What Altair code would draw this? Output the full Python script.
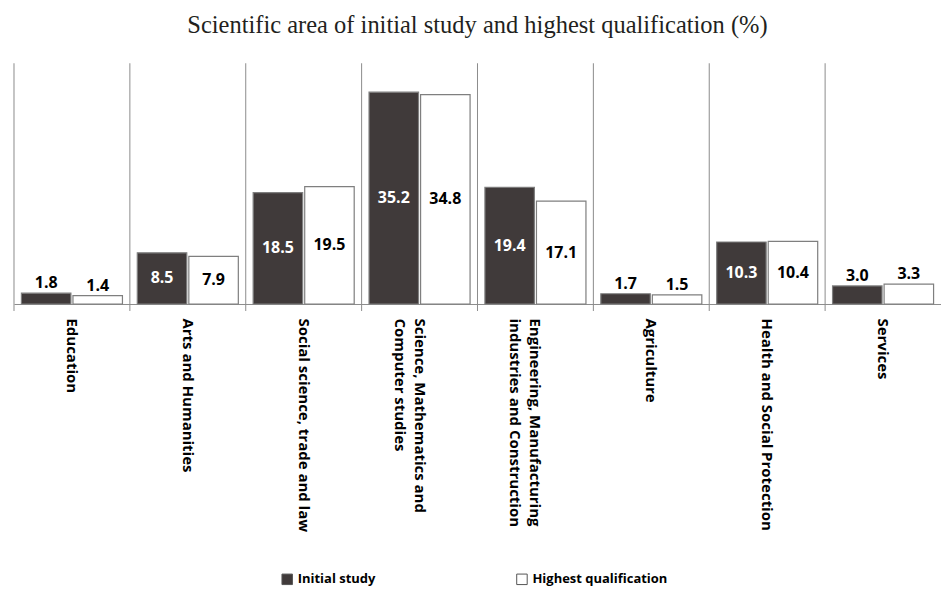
import altair as alt
import pandas as pd

categories = [
    "Education",
    "Arts and Humanities",
    "Social science, trade and law",
    "Science, Mathematics and\nComputer studies",
    "Engineering, Manufacturing\nindustries and Construction",
    "Agriculture",
    "Health and Social Protection",
    "Services",
]
series = ["Initial study", "Highest qualification"]
initial_study = [1.8, 8.5, 18.5, 35.2, 19.4, 1.7, 10.3, 3.0]
highest_qualification = [1.4, 7.9, 19.5, 34.8, 17.1, 1.5, 10.4, 3.3]

rows = []
for c, a, b in zip(categories, initial_study, highest_qualification):
    rows.append({"category": c, "series": series[0], "value": a, "label": f"{a:.1f}"})
    rows.append({"category": c, "series": series[1], "value": b, "label": f"{b:.1f}"})
df = pd.DataFrame(rows)

DARK = "#403a3a"
GRID = "#8c8c8c"
FONT = "Open Sans"
W, H = 928, 241

xenc = alt.X(
    "category:N",
    sort=categories,
    scale=alt.Scale(paddingInner=0, paddingOuter=0),
    axis=alt.Axis(
        title=None,
        labelAngle=90,
        labelAlign="left",
        labelBaseline="middle",
        labelFont=FONT,
        labelFontWeight="bold",
        labelFontSize=15,
        labelColor="#000000",
        labelPadding=14,
        labelLimit=400,
        labelLineHeight=20,
        labelExpr="split(datum.label, '\\n')",
        ticks=False,
        domainColor=GRID,
        domainWidth=1,
        grid=False,
    ),
)
xoff = alt.XOffset(
    "series:N", sort=series, scale=alt.Scale(paddingInner=0.04, paddingOuter=0.144)
)
yscale = alt.Scale(domain=[0, 40])

base = alt.Chart(df).encode(x=xenc, xOffset=xoff)

bars = base.mark_bar(stroke="#7f7f7f", strokeWidth=1.2).encode(
    y=alt.Y("value:Q", scale=yscale, axis=None),
    color=alt.Color(
        "series:N",
        sort=series,
        scale=alt.Scale(domain=series, range=[DARK, "#ffffff"]),
        legend=alt.Legend(
            title=None,
            orient="none",
            legendX=267,
            legendY=510,
            direction="horizontal",
            symbolType="square",
            symbolSize=110,
            symbolStrokeColor="#555555",
            symbolStrokeWidth=1,
            labelFont=FONT,
            labelFontWeight="bold",
            labelFontSize=13,
            labelColor="#000000",
            columnPadding=139,
            labelOffset=4,
        ),
    ),
)

big = (
    base.transform_filter("datum.value >= 5")
    .transform_calculate(mid="datum.value / 2")
    .mark_text(font=FONT, fontWeight="bold", fontSize=16, baseline="middle")
    .encode(
        y=alt.Y("mid:Q", scale=yscale, axis=None),
        text="label:N",
        color=alt.when(alt.datum.series == "Initial study")
        .then(alt.value("#ffffff"))
        .otherwise(alt.value("#000000")),
    )
)

small = (
    base.transform_filter("datum.value < 5")
    .mark_text(font=FONT, fontWeight="bold", fontSize=16, baseline="bottom", dy=-2, color="#000000")
    .encode(y=alt.Y("value:Q", scale=yscale, axis=None), text="label:N")
)

seps = (
    alt.Chart(pd.DataFrame({"category": categories}))
    .mark_rule(color=GRID, strokeWidth=1)
    .encode(
        x=alt.X("category:N", sort=categories, bandPosition=0),
        y=alt.value(0),
        y2=alt.value(H + 7),
    )
)

chart = (
    alt.layer(seps, bars, big, small)
    .properties(
        width=W,
        height=H,
        padding={"top": 5, "left": 5, "right": 0, "bottom": 5},
        title=alt.Title(
            "Scientific area of initial study and highest qualification (%)",
            font="Liberation Serif",
            fontSize=24.5,
            fontWeight="normal",
            color="#231f20",
            anchor="middle",
            offset=24,
        ),
    )
    .configure_view(stroke=None)
)

chart.save("out.html", embed_options={"renderer": "svg", "actions": False})
